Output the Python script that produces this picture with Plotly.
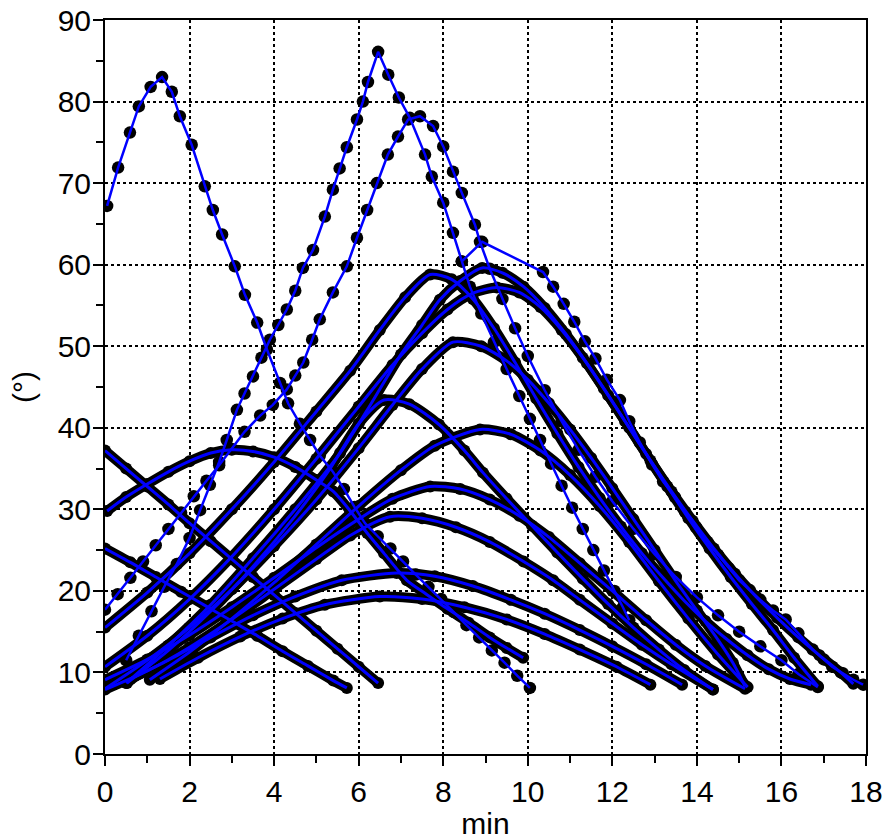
import plotly.graph_objects as go

# ---- data (x in min, y in degrees) ----
# curves drawn as separate dots
c1_x = [0.05,0.31,0.59,0.8,1.08,1.35,1.58,1.77,2.05,2.36,2.55,2.77,3.07,3.31,3.6,3.83,4.14,4.33,4.61,4.85,5.08,5.39,5.65,5.9,6.15,6.45,6.75,7.05,7.35,7.65,7.95,8.25,8.55,8.85,9.15,9.45,9.75,10.05]
c1_y = [67.2,71.9,76.2,79.4,81.8,83,81.2,78.2,74.7,69.6,66.7,63.7,59.8,56.3,52.9,49.6,45.5,43,40.5,38.5,36.6,34.6,32.5,30.3,28.3,26.7,25.2,23.6,22,20.5,19,17.4,15.8,14.3,12.7,11.2,9.6,8.1]

p86_x = [0.5,0.8,1.1,1.4,1.7,2.0,2.25,2.48,2.7,2.88,3.12,3.3,3.5,3.7,3.9,4.1,4.3,4.5,4.68,4.92,5.2,5.39,5.55,5.72,5.96,6.1,6.22,6.46,6.7,6.95,7.21,7.57,7.73,8.0,8.23,8.44,8.63,8.9,9.2,9.5,9.8,10.05,10.29,10.55,10.8,11.05,11.3,11.55,11.8,12.05,12.25,12.4]
p86_y = [11.5,14.5,17.5,20.5,23.3,26.5,29.9,33,35.8,38.5,42.2,44.2,46.3,48.6,50.8,52.6,54.5,56.8,59.6,61.8,65.9,69.2,71.8,74.4,77.8,80,82.4,86.1,83.3,80.5,78,73.5,70.8,67.6,63.9,60.4,57.3,54,50.5,47.2,43.9,41.1,38.5,35.6,32.9,30.2,27.6,25,22.5,20,18,16.4]

p78_x = [0,0.3,0.6,0.9,1.2,1.5,1.8,2.1,2.4,2.7,3.0,3.3,3.67,3.97,4.3,4.5,4.69,4.9,5.08,5.39,5.72,5.96,6.2,6.43,6.69,6.93,7.17,7.45,7.76,8.0,8.23,8.44,8.75,8.87,9.1,9.4,9.7,10.0,10.4,10.8,11.2,11.6,12.0,12.5,13.0,13.5,14.0,14.5,15.0,15.5,16.0,16.4,16.86]
p78_y = [17.7,19.6,21.6,23.6,25.6,27.6,29.6,31.6,33.5,35.4,37.4,39.5,41.5,42.8,44.7,46.4,48,50.8,53.3,56.6,59.8,63.3,66.7,70,73.5,75.7,77.8,78.2,77,74.5,71.4,68.8,64.9,62.8,59.5,55.8,52.2,48.8,44.6,40.8,37.3,34,31,27.6,24.5,21.7,19.2,17,15,13.2,11.5,9.8,8.2]

outer_x = [8.44,8.92,10.36,10.6,10.85,11.1,11.35,11.6,11.87,12.18,12.4,12.65,12.94,13.2,13.48,13.72,13.98,14.25,14.5,14.75,15.0,15.25,15.5,15.8,16.1,16.4,16.74,17.0,17.2,17.45,17.7,17.93]
outer_y = [60.4,62.8,59.1,57.3,55.2,53,50.6,48.5,45.9,43.4,40.8,38.2,35.5,33.4,31.5,29.7,27.8,26,24.4,22.8,21.3,20.1,18.9,17.6,16.5,14.8,12.8,11.6,10.7,9.9,9.1,8.5]

# curves drawn as dense (continuous) dotted bands
c2_x = [0.05,0.5,1.0,1.5,2.0,2.5,3.0,3.5,4.0,4.5,5.0,5.4,5.8,6.2,6.6,7.14,7.6,8.1,8.6,9.1,9.5,9.89]
c2_y = [29.8,31.5,33.1,34.6,35.9,36.9,37.3,37.1,36.4,35.2,33.6,32.2,29.8,27.1,24.6,21.3,19.6,17.8,16.1,14.3,13,11.8]
c3_x = [0,0.5,1,1.5,2,2.5,3,3.5,4,4.5,5,5.5,6,6.46]
c3_y = [37.2,35,32.8,30.6,28.3,26.1,23.9,21.7,19.5,17.3,15.1,12.9,10.7,8.7]
c4_x = [0,0.6,1.2,1.8,2.4,3.0,3.6,4.2,4.8,5.4,5.72]
c4_y = [25.2,23.5,21.7,19.9,18.1,16.3,14.5,12.6,10.8,9.0,8.1]
p59_x = [0.5,1.5,2.5,3.5,4.5,5.56,6.3,7.0,7.5,7.92,8.4,8.92,9.4,9.9,10.4,10.9,11.4,11.9,12.4,12.9,13.4,13.9,14.4,14.9,15.4,15.9,16.4,16.9,17.4,17.7]
p59_y = [8.7,13.3,18.3,24,30,36.9,43,49,52.6,55.7,58,59.6,59,57.3,54.7,51.5,47.9,44,40,36,32.2,28.6,25.2,22.1,19.3,16.7,14.3,12.1,10,8.6]
p57_x = [0,1,2,3,4,5,6,6.8,7.5,8.1,8.7,9.27,9.8,10.3,10.8,11.3,11.8,12.3,12.8,13.3,13.8,14.3,14.8,15.3,15.8,16.3,16.86]
p57_y = [10.7,14.5,19,24.2,30,36.2,42.6,47.7,51.6,54.5,56.5,57.2,56.6,54.8,52,48.6,44.8,40.8,36.8,32.8,28.9,25.2,21.7,18.4,15.2,11.8,8.3]
p58_x = [0,1,2,3,4,5,5.8,6.5,7.1,7.69,8.2,8.7,9.2,9.7,10.2,10.7,11.2,11.7,12.2,12.7,13.2,13.7,14.2,14.7,15.2,15.7,16.2,16.7]
p58_y = [15.5,19.8,24.6,30,35.8,42,47,52,56,58.8,58.2,55.8,52.2,48,43.6,39.3,35.2,31.4,27.9,24.6,21.6,18.8,16.3,14.1,12.1,10.4,9.2,8.5]
p50_x = [0,1,2,3,4,5,6,6.8,7.5,8.23,8.9,9.5,10,10.5,11,11.5,12,12.5,13,13.5,14,14.5,14.85,15.14]
p50_y = [8,11.5,15.5,20.2,25.5,31.2,37.5,42.8,47.2,50.5,50,48.2,45.9,43,39.8,36.3,32.6,28.8,25,21.2,17.6,14.0,11.2,8.3]
p43_x = [0.52,1.5,2.5,3.5,4.5,5.3,6.0,6.6,7.2,7.9,8.5,8.94,9.5,10.1,10.7,11.3,11.9,12.5,13.1,13.7,14.38]
p43_y = [8.7,12.7,17.5,23,29.2,34.8,40.5,43.4,42.9,40.4,37.2,34.5,31.3,28,24.7,21.5,18.4,15.5,12.8,10.3,7.9]
p40_x = [1.06,2,3,4,5,6,7,7.8,8.87,9.6,10.3,11,11.7,12.4,13.1,13.8,14.5,15.2]
p40_y = [9.1,12.5,16.6,21,25.7,30.4,34.8,37.8,39.8,39.2,37.2,34.2,30.4,26,21.2,16.6,12.2,8.2]
p33_x = [0,1,2,3,4,5,6,6.8,7.69,8.4,9.1,9.8,10.5,11.23,12,12.8,13.5,14.2,15.14]
p33_y = [9.1,11.6,14.6,18,21.6,25.3,28.8,31.3,32.8,32.5,31.2,29.2,26.6,23.4,20,16.4,13.4,10.8,8.0]
p29_x = [0,1,2,3,4,5,5.8,6.74,7.5,8.3,9.1,9.9,10.6,11.23,12,12.7,13.4,14.38]
p29_y = [7.9,10.2,13.1,16.5,20.2,23.9,26.8,29.1,28.9,27.8,26,23.6,21.3,18.9,16,13.4,11,7.9]
p22_x = [0.6,1.5,2.5,3.5,4.5,5.6,6.9,7.8,8.7,9.6,10.4,11.23,12,12.8,13.65]
p22_y = [9.2,11.5,14.3,17,19.3,21.3,22.2,21.8,20.6,18.9,17.2,15.2,13.2,11,8.5]
p19_x = [1.3,2.2,3.2,4.2,5.2,6.5,7.5,8.5,9.5,10.4,11.23,12.1,12.9]
p19_y = [9.2,11.8,14.4,16.6,18.3,19.3,19,18,16.5,14.7,12.8,10.7,8.5]

x_ticks = [0, 2, 4, 6, 8, 10, 12, 14, 16, 18]
y_ticks = [0, 10, 20, 30, 40, 50, 60, 70, 80, 90]

dot_curves = [(c1_x, c1_y), (p86_x, p86_y), (p78_x, p78_y), (outer_x, outer_y)]
band_curves = [(c2_x, c2_y), (c3_x, c3_y), (c4_x, c4_y), (p59_x, p59_y), (p57_x, p57_y),
               (p58_x, p58_y), (p50_x, p50_y), (p43_x, p43_y), (p40_x, p40_y),
               (p33_x, p33_y), (p29_x, p29_y), (p22_x, p22_y), (p19_x, p19_y)]

BLUE = "#0000ff"
fig = go.Figure()

# black bands / dots underneath
for xs, ys in band_curves:
    fig.add_trace(go.Scatter(x=xs, y=ys, mode="lines+markers",
                             line=dict(color="black", width=10, shape="spline", smoothing=0.7),
                             marker=dict(color="black", size=12),
                             hoverinfo="skip", showlegend=False))
for xs, ys in dot_curves:
    fig.add_trace(go.Scatter(x=xs, y=ys, mode="markers",
                             marker=dict(color="black", size=12.5, symbol="circle"),
                             hoverinfo="skip", showlegend=False))
# blue lines on top
for xs, ys in band_curves:
    fig.add_trace(go.Scatter(x=xs, y=ys, mode="lines",
                             line=dict(color=BLUE, width=3, shape="spline", smoothing=0.7),
                             hoverinfo="skip", showlegend=False))
for xs, ys in dot_curves:
    fig.add_trace(go.Scatter(x=xs, y=ys, mode="lines",
                             line=dict(color=BLUE, width=2.5),
                             hoverinfo="skip", showlegend=False))

axis_font = dict(family="Liberation Sans, Arial, sans-serif", size=30, color="black")
fig.update_layout(
    width=887, height=840,
    margin=dict(l=105, r=21, t=20, b=86, autoexpand=False),
    paper_bgcolor="white", plot_bgcolor="white",
    showlegend=False,
    font=axis_font,
    xaxis=dict(range=[0, 18], tickvals=x_ticks, ticktext=[str(v) for v in x_ticks],
               automargin=False,
               showline=True, linecolor="black", linewidth=2, mirror=True,
               ticks="outside", ticklen=10, tickwidth=2, tickcolor="black",
               showgrid=True, gridcolor="black", gridwidth=1.5, griddash="3px,3px",
               zeroline=False, tickfont=axis_font,
               minor=dict(dtick=1, ticks="outside", ticklen=7, tickwidth=2, tickcolor="black", showgrid=False),
               title=dict(text="min", font=axis_font, standoff=10)),
    yaxis=dict(range=[0, 90], tickvals=y_ticks, ticktext=[str(v) for v in y_ticks],
               automargin=False, ticklabelstandoff=-4,
               showline=True, linecolor="black", linewidth=2, mirror=True,
               ticks="outside", ticklen=10, tickwidth=2, tickcolor="black",
               showgrid=True, gridcolor="black", gridwidth=1.5, griddash="3px,3px",
               zeroline=False, tickfont=axis_font,
               minor=dict(dtick=5, ticks="outside", ticklen=7, tickwidth=2, tickcolor="black", showgrid=False),
               title=dict(text="(°)", font=axis_font, standoff=14)),
)

fig.write_html("out.html")
